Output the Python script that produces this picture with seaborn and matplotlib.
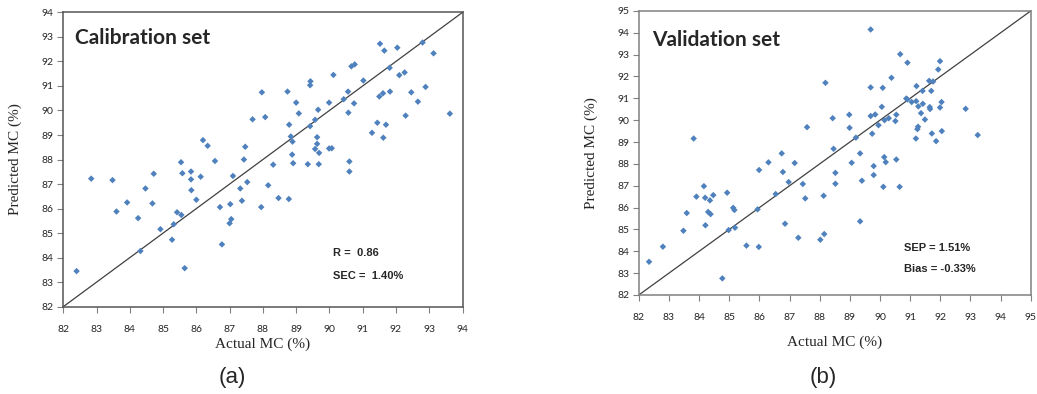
import numpy as np
import pandas as pd
import matplotlib
matplotlib.use("Agg")
import matplotlib.pyplot as plt
import seaborn as sns

# calibration set (actual, predicted)
cal_actual = [82.40, 82.84, 83.48, 83.60, 83.92, 84.25, 84.32, 84.47, 84.68, 84.72,
              84.92, 85.27, 85.32, 85.42, 85.55, 85.54, 85.58, 85.65, 85.84, 85.84,
              85.85, 86.00, 86.13, 86.20, 86.34, 86.56, 86.71, 86.77, 87.02, 87.00,
              87.05, 87.10, 87.32, 87.37, 87.43, 87.47, 87.53, 87.69, 87.95, 87.97,
              88.07, 88.16, 88.31, 88.47, 88.74, 88.78, 88.79, 88.84, 88.89, 88.88,
              88.91, 89.00, 89.08, 89.35, 89.42, 89.43, 89.42, 89.57, 89.57, 89.63,
              89.63, 89.66, 89.69, 89.68, 89.99, 89.99, 90.07, 90.12, 90.43, 90.56,
              90.57, 90.60, 90.60, 90.66, 90.76, 90.74, 91.02, 91.28, 91.44, 91.50,
              91.52, 91.61, 91.62, 91.65, 91.70, 91.81, 91.82, 92.04, 92.10, 92.26,
              92.29, 92.46, 92.66, 92.80, 92.89, 93.13, 93.62]
cal_pred = [83.45, 87.22, 87.16, 85.88, 86.25, 85.61, 84.27, 86.82, 86.21, 87.42,
            85.16, 84.73, 85.36, 85.85, 85.74, 87.89, 87.44, 83.57, 87.51, 87.19,
            86.75, 86.36, 87.30, 88.79, 88.56, 87.94, 86.06, 84.54, 86.18, 85.40,
            85.57, 87.33, 86.82, 86.32, 88.00, 88.52, 87.08, 89.64, 86.06, 90.74,
            89.73, 86.95, 87.79, 86.43, 90.77, 86.39, 89.42, 88.94, 88.73, 88.20,
            87.85, 90.32, 89.88, 87.81, 89.36, 91.19, 91.03, 89.62, 88.43, 88.91,
            88.64, 90.03, 88.27, 87.81, 90.32, 88.45, 88.46, 91.45, 90.46, 90.77,
            89.91, 87.92, 87.51, 91.80, 91.88, 90.29, 91.22, 89.09, 89.50, 90.57,
            92.72, 90.70, 88.89, 92.44, 89.42, 91.74, 90.77, 92.56, 91.44, 91.55,
            89.79, 90.74, 90.36, 92.77, 90.96, 92.33, 89.87]

# validation set (actual, predicted)
val_actual = [82.34, 82.80, 83.48, 83.59, 83.82, 83.91, 84.16, 84.20, 84.21, 84.30,
              84.36, 84.38, 84.47, 84.77, 84.93, 84.98, 85.13, 85.17, 85.19, 85.57,
              85.94, 85.98, 85.99, 86.30, 86.54, 86.74, 86.78, 86.85, 86.97, 87.17,
              87.29, 87.44, 87.52, 87.58, 88.02, 88.13, 88.15, 88.19, 88.43, 88.46,
              88.52, 88.52, 88.98, 88.99, 89.06, 89.20, 89.34, 89.34, 89.40, 89.69,
              89.69, 89.69, 89.74, 89.79, 89.79, 89.84, 89.95, 90.06, 90.09, 90.11,
              90.14, 90.15, 90.19, 90.29, 90.38, 90.51, 90.54, 90.54, 90.65, 90.67,
              90.87, 90.91, 90.91, 91.05, 91.19, 91.20, 91.21, 91.24, 91.26, 91.27,
              91.36, 91.41, 91.42, 91.49, 91.63, 91.65, 91.66, 91.70, 91.72, 91.76,
              91.86, 91.93, 91.99, 91.99, 92.04, 92.05, 92.84, 93.24]
val_pred = [83.52, 84.21, 84.94, 85.75, 89.16, 86.50, 86.98, 86.45, 85.19, 85.80,
            86.33, 85.70, 86.57, 82.76, 86.68, 84.97, 85.99, 85.89, 85.08, 84.26,
            85.92, 84.20, 87.72, 88.07, 86.62, 88.48, 87.63, 85.26, 87.17, 88.04,
            84.62, 87.08, 86.42, 89.68, 84.53, 86.54, 84.79, 91.71, 90.09, 88.69,
            87.59, 87.09, 90.25, 89.65, 88.05, 89.20, 88.48, 85.37, 87.23, 94.15,
            91.50, 90.19, 89.38, 87.90, 87.49, 90.26, 89.77, 90.61, 91.48, 86.95,
            88.31, 90.00, 88.08, 90.09, 91.94, 89.96, 90.25, 88.20, 86.95, 93.02,
            90.99, 90.95, 92.63, 90.83, 89.16, 90.87, 91.56, 89.59, 89.70, 90.63,
            90.32, 91.34, 90.75, 90.03, 91.80, 90.60, 90.51, 91.34, 89.39, 91.77,
            89.04, 92.32, 92.70, 90.58, 90.83, 89.50, 90.52, 89.32]

cal_ticks = list(range(82, 95))
val_ticks = list(range(82, 96))

cal_df = pd.DataFrame({"actual": cal_actual, "pred": cal_pred})
val_df = pd.DataFrame({"actual": val_actual, "pred": val_pred})

sns.set_style("white")
plt.rcParams["font.family"] = ["Liberation Sans", "DejaVu Sans"]

fig = plt.figure(figsize=(10.37, 3.94), dpi=100)
ax1 = fig.add_axes([0.061, 0.2216, 0.385, 0.747])
ax2 = fig.add_axes([0.616, 0.2513, 0.378, 0.721])

blue = "#4F81BD"


def style_panel(ax, df, ticks, spine_col, title, stats, title_pos, stats_pos, xlab_y):
    sns.scatterplot(data=df, x="actual", y="pred", ax=ax, marker="D", s=11,
                    color=blue, edgecolor="none", linewidth=0, zorder=3)
    ax.axline((ticks[0], ticks[0]), slope=1, color="#404040", lw=0.9, zorder=2)
    ax.set_xlim(ticks[0], ticks[-1])
    ax.set_ylim(ticks[0], ticks[-1])
    ax.set_xticks(ticks)
    ax.set_yticks(ticks)
    ax.tick_params(axis="both", which="major", direction="out", length=4,
                   width=0.8, color="#808080", labelsize=7.5, left=True, bottom=True)
    ax.tick_params(axis="x", pad=9)
    ax.tick_params(axis="y", pad=3)
    for lab in ax.get_xticklabels() + ax.get_yticklabels():
        lab.set_family("Lato")
    for sp in ax.spines.values():
        sp.set_color(spine_col)
        sp.set_linewidth(1.1)
    ax.set_xlabel("Actual MC (%)", family="Liberation Serif", fontsize=11)
    ax.set_ylabel("Predicted MC (%)", family="Liberation Serif", fontsize=11)
    ax.xaxis.set_label_coords(0.5, xlab_y)
    ax.text(title_pos[0], title_pos[1], title, family="Lato", fontweight="bold",
            fontsize=15, va="center", ha="left")
    ax.text(stats_pos[0], stats_pos[1], stats[0], fontweight="bold", fontsize=8,
            va="center", ha="left")
    ax.text(stats_pos[0], stats_pos[2], stats[1], fontweight="bold", fontsize=8,
            va="center", ha="left")


style_panel(ax1, cal_df, cal_ticks, "#555555", "Calibration set",
            ["R =  0.86", "SEC =  1.40%"], (82.35, 92.97), (90.12, 84.17, 83.24), -0.105)
style_panel(ax2, val_df, val_ticks, "#808080", "Validation set",
            ["SEP = 1.51%", "Bias = -0.33%"], (82.45, 93.66), (90.79, 84.13, 83.17), -0.143)

ax1.yaxis.set_label_coords(-0.103, 0.5)
ax2.yaxis.set_label_coords(-0.105, 0.5)

fig.text(0.2237, 0.041, "(a)", fontsize=16, ha="center", va="center")
fig.text(0.7936, 0.043, "(b)", fontsize=16, ha="center", va="center")

fig.savefig("out.png", dpi=100)
